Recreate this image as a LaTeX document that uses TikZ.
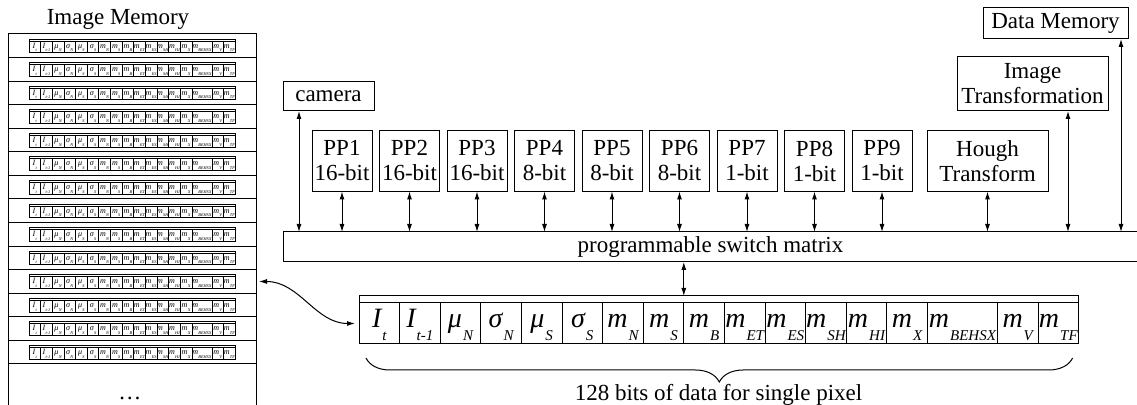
\documentclass[tikz,border=0pt]{standalone}
\usepackage{fontspec}
\setmainfont{Liberation Serif}
\usetikzlibrary{positioning}
\usetikzlibrary{arrows.meta}
\usetikzlibrary{decorations.pathreplacing}
\tikzset{box/.style={rectangle,draw=black,inner sep=1pt,outer sep=0pt,align=center}}
\tikzset{unit/.style={box,minimum width=30pt,minimum height=30.5pt}}
\tikzset{link/.style={draw=black,{Latex[length=4pt,width=2.5pt]}-{Latex[length=4pt,width=2.5pt]}}}
\tikzset{cell/.style={rectangle,draw=black,inner sep=0pt,outer sep=0pt,minimum height=20.5pt,text height=9.5pt,text depth=5pt,font=\fontsize{14}{14}\selectfont}}
\tikzset{strip/.style={rectangle,draw=black,inner sep=0pt,outer sep=0pt,minimum width=359.8pt,minimum height=3.5pt}}
\tikzset{memrow/.style={rectangle,draw=black,inner sep=0pt,outer sep=0pt,minimum width=124pt,minimum height=11.785pt}}

% one cell label: letter and a lowered index
\newcommand{\lbl}[2]{\itshape #1\hspace{0.5pt}\raisebox{-6.5pt}{\fontsize{7.5}{7.5}\selectfont #2}}
% the 128-bit pixel word, nodes named #1-1 ... #1-17 and #1-top
\newcommand{\dataword}[1]{%
  \foreach \lab/\cw [count=\i, remember=\i as \j (initially 0)] in
    {\lbl{I}{t}/20.3pt, \lbl{I}{t-1}/20.3pt, \lbl{μ}{N}/20.3pt, \lbl{σ}{N}/20.3pt,
     \lbl{μ}{S}/20.3pt, \lbl{σ}{S}/20.3pt, \lbl{m}{N}/20.3pt, \lbl{m}{S}/20.3pt,
     \lbl{m}{B}/20.3pt, \lbl{m}{ET}/20.3pt, \lbl{m}{ES}/20.3pt, \lbl{m}{SH}/20.3pt,
     \lbl{m}{HI}/20.3pt, \lbl{m}{X}/20.3pt, \lbl{m}{BEHSX}/35pt, \lbl{m}{V}/20.3pt,
     \lbl{m}{TF}/20.3pt}{
    \ifnum\i=1
      \node [cell,minimum width=\cw,anchor=north west] (#1-\i) at (0,0) {\lab};
    \else
      \node [cell,minimum width=\cw,anchor=west] (#1-\i) at (#1-\j.east) {\lab};
    \fi
  }
  \node [strip,anchor=south west] (#1-top) at (#1-1.north west) {};
}

\begin{document}
\begin{tikzpicture}[x=0.5pt,y=-0.5pt,line width=0.5pt,font=\fontsize{11.5}{12.5}\selectfont]
  \useasboundingbox (0,0) rectangle (1137,405);

  % image memory
  \node (memtitle) at (118,19) {Image Memory};
  \foreach \k in {1,...,14} {
    \node [memrow] (row\k) at (132,{34+23.57*(\k-0.5)}) {};
    \begin{scope}[shift={(29,{34+23.57*(\k-0.5)-4.9})},scale=0.2865,transform shape,line width=0.35pt]
      \dataword{r\k}
    \end{scope}
  }
  \draw (row14.south west) -- ++(0,45);
  \draw (row14.south east) -- ++(0,45);
  \node [anchor=base] (dots) at (130,400) {\dots};

  % processors
  \node [box,minimum width=45.5pt,minimum height=14.5pt] (cam) at (328.5,96.5) {camera};
  \foreach \ppn/\bits [remember=\ppn as \prev (initially 0)] in {1/16,2/16,3/16,4/8,5/8,6/8,7/1,8/1,9/1} {
    \ifnum\ppn=1
      \node [unit] (PP1) at (342,161) {PP1\\16-bit};
    \else
      \node [unit,right=3.75pt of PP\prev] (PP\ppn) {PP\ppn\\\bits-bit};
    \fi
  }
  \node [unit,minimum width=60.5pt,right=7.5pt of PP9] (hough) {Hough\\Transform};
  \node [box,minimum width=75.5pt,minimum height=27pt] (imgtrans) at (1032.5,84) {Image\\Transformation};
  \node [box,minimum width=72.5pt,minimum height=15.5pt] (datamem) at (1055.5,23.5) {Data Memory};
  \node [box,minimum width=427.5pt,minimum height=15pt] (switch) at (710.5,247) {programmable switch matrix};

  \foreach \ppn in {1,...,9}
    \draw [link] (PP\ppn.south) -- (PP\ppn.south |- switch.north);
  \draw [link] (hough.south) -- (hough.south |- switch.north);
  \draw [link] ([xshift=-14.75pt]cam.south) -- ([xshift=-14.75pt]cam.south |- switch.north);
  \draw [link] ([xshift=17.75pt]imgtrans.south) -- ([xshift=17.75pt]imgtrans.south |- switch.north);
  \draw [link] ([xshift=32.75pt]datamem.south) -- ([xshift=32.75pt]datamem.south |- switch.north);

  % the pixel word
  \begin{scope}[shift={(359,303)}]
    \dataword{w}
  \end{scope}
  \draw [link] (switch.south -| w-9.west) -- (w-top.north -| w-9.west);
  \draw [link,shorten <=1.5pt,shorten >=2pt] (row11.east) to[out=0,in=180] (w-1.west);

  \draw [decorate,decoration={brace,mirror,amplitude=12pt}]
    ([shift={(3.5pt,-7pt)}]w-1.south west) -- ([shift={(-3pt,-7pt)}]w-17.south east);
  \node [anchor=base] (bitsnote) at (718.5,401) {128 bits of data for single pixel};
\end{tikzpicture}
\end{document}
